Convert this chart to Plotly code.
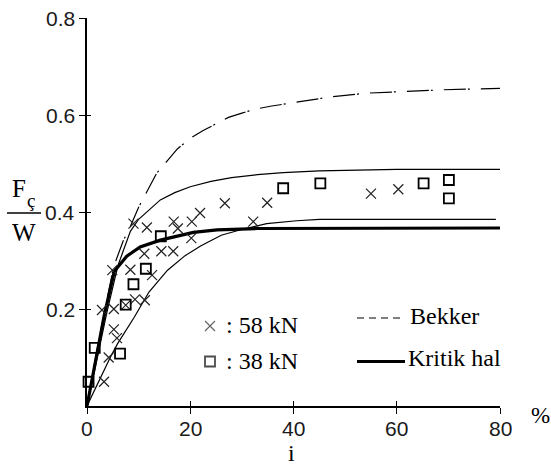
import plotly.graph_objects as go

# ---- measured series (slip i in %, traction ratio Fc/W) ----
x58 = [3.3, 4.2, 5.2, 5.8, 2.9, 5.2, 7.5, 9.3, 11.2, 12.6, 4.9, 8.4, 11.1, 14.4,
       16.7, 20.2, 9.0, 11.6, 16.8, 17.6, 20.3, 21.9, 26.7, 32.2, 34.9, 55.0, 60.3]
y58 = [0.050, 0.100, 0.158, 0.140, 0.198, 0.200, 0.208, 0.220, 0.218, 0.270, 0.280,
       0.281, 0.314, 0.319, 0.319, 0.346, 0.376, 0.368, 0.380, 0.366, 0.380, 0.398,
       0.418, 0.380, 0.419, 0.438, 0.447]

x38 = [0.3, 1.5, 6.4, 7.5, 9.0, 11.4, 14.3, 38.0, 45.2, 65.2, 70.1, 70.1]
y38 = [0.050, 0.120, 0.108, 0.209, 0.251, 0.283, 0.350, 0.449, 0.459, 0.459,
       0.466, 0.428]

# ---- model curves ----
bekker_x = [0, 2, 3.5, 5.15, 7, 8.4, 10, 12.25, 13.5, 15.5, 17.5, 20, 22.5, 25.2,
            27.4, 30, 32.6, 35.5, 40, 47, 54, 62, 69, 80]
bekker_y = [0, 0.12, 0.2, 0.287, 0.34, 0.37, 0.41, 0.456, 0.48, 0.505, 0.53, 0.552,
            0.568, 0.583, 0.595, 0.604, 0.612, 0.618, 0.626, 0.637, 0.645, 0.649,
            0.652, 0.655]

upper_x = [0, 2, 4, 6, 8.4, 10, 12, 14.2, 17, 20, 24, 28, 33, 38, 45, 52, 60, 80]
upper_y = [0, 0.1, 0.2, 0.29, 0.36, 0.385, 0.405, 0.425, 0.44, 0.452, 0.463, 0.471,
           0.477, 0.481, 0.485, 0.487, 0.488, 0.488]

lower_x = [0, 2, 4.5, 5.9, 9.15, 12, 15.6, 19, 22, 26, 30.3, 34.8, 40.6, 45, 52, 79.2]
lower_y = [0, 0.045, 0.1, 0.128, 0.183, 0.235, 0.28, 0.31, 0.33, 0.352, 0.365,
           0.376, 0.382, 0.385, 0.385, 0.385]

kritik_x = [0, 2, 3.4, 5.3, 7.7, 10.3, 14.2, 20.6, 25.2, 33, 80]
kritik_y = [0, 0.11, 0.19, 0.278, 0.309, 0.328, 0.342, 0.358, 0.363, 0.366, 0.367]

x_ticks = [0, 20, 40, 60, 80]
x_tick_text = ["0", "20", "40", "60", "80"]
y_ticks = [0.2, 0.4, 0.6, 0.8]
y_tick_text = ["0.2", "0.4", "0.6", "0.8"]

# ---- page geometry ----
W, H = 551, 469
L, R, T, B = 87, 51, 18, 63
PW, PH = W - L - R, H - T - B


def px(x):
    return (x - L) / PW


def py(y):
    return (H - B - y) / PH


SERIF = "Liberation Serif, Times New Roman, serif"
SANS = "Liberation Sans, Arial, sans-serif"
INK = "#1a1a1a"

fig = go.Figure()

fig.add_trace(go.Scatter(x=bekker_x, y=bekker_y, mode="lines",
                         line=dict(color="black", width=1.2, dash="22px,2px,2px,11px"),
                         hoverinfo="skip"))
fig.add_trace(go.Scatter(x=upper_x, y=upper_y, mode="lines",
                         line=dict(color="black", width=1.2), hoverinfo="skip"))
fig.add_trace(go.Scatter(x=lower_x, y=lower_y, mode="lines",
                         line=dict(color="black", width=1.2), hoverinfo="skip"))
fig.add_trace(go.Scatter(x=kritik_x, y=kritik_y, mode="lines",
                         line=dict(color="black", width=3.2), hoverinfo="skip"))
fig.add_trace(go.Scatter(x=x58, y=y58, mode="markers", cliponaxis=False,
                         marker=dict(symbol="x-thin-open", size=10, color="#222",
                                     line=dict(color="#222", width=1.2)),
                         hoverinfo="skip"))
fig.add_trace(go.Scatter(x=x38, y=y38, mode="markers", cliponaxis=False,
                         marker=dict(symbol="square-open", size=10, color="black",
                                     line=dict(color="black", width=1.8)),
                         hoverinfo="skip"))

# inner half of the crossing tick marks
fig.add_trace(go.Scatter(x=[None], y=[None], xaxis="x2", yaxis="y2",
                         showlegend=False, hoverinfo="skip"))

# legend keys for the two load series
fig.add_trace(go.Scatter(x=[px(210), px(210)], y=[py(326), py(361.5)],
                         xaxis="x3", yaxis="y3", mode="markers", cliponaxis=False,
                         marker=dict(symbol=["x-thin-open", "square-open"], size=[10, 10],
                                     color=["#222", "black"],
                                     line=dict(color=["#222", "black"], width=[1.2, 1.8])),
                         hoverinfo="skip"))

axis_common = dict(showgrid=False, zeroline=False, showline=True, linecolor="black",
                   linewidth=1.5, ticks="outside", ticklen=6, tickwidth=1.3,
                   tickcolor="black", showticklabels=False)

fig.update_layout(
    width=W, height=H,
    margin=dict(l=L, r=R, t=T, b=B),
    paper_bgcolor="white", plot_bgcolor="white",
    showlegend=False,
    xaxis=dict(range=[0, 80], tickvals=x_ticks, **axis_common),
    yaxis=dict(range=[0, 0.8], tickvals=y_ticks, **axis_common),
    xaxis2=dict(overlaying="x", anchor="y2", range=[0, 80], tickvals=x_ticks,
                ticks="inside", ticklen=5, tickwidth=1.3, tickcolor="black",
                showticklabels=False, showline=False, showgrid=False, zeroline=False),
    yaxis2=dict(overlaying="y", anchor="x2", range=[0, 0.8], tickvals=y_ticks,
                ticks="inside", ticklen=4, tickwidth=1.3, tickcolor="black",
                showticklabels=False, showline=False, showgrid=False, zeroline=False),
    xaxis3=dict(overlaying="x", anchor="y3", range=[0, 1], visible=False),
    yaxis3=dict(overlaying="y", anchor="x3", range=[0, 1], visible=False),
)

ann = []

# tick labels, set just off the axis lines
for v, s in zip(x_ticks, x_tick_text):
    ann.append(dict(text=s, x=v, xref="x", y=py(428), yref="paper",
                    xanchor="center", yanchor="middle", showarrow=False, height=20,
                    font=dict(family=SANS, size=21, color=INK)))
for v, s in zip(y_ticks, y_tick_text):
    ann.append(dict(text=s, x=px(77), xref="paper", y=v, yref="y",
                    xanchor="right", yanchor="middle", showarrow=False, height=20,
                    font=dict(family=SANS, size=21, color=INK)))


def text(s, x, y, size, xanchor="center", family=SERIF, height=None):
    a = dict(text=s, x=px(x), y=py(y), xref="paper", yref="paper",
             xanchor=xanchor, yanchor="middle", showarrow=False,
             font=dict(family=family, size=size, color="black"))
    if height:
        a["height"] = height
    ann.append(a)


# y-axis title as a fraction Fç / W
text("F", 19, 188.5, 25)
text("ç", 31, 200, 19)
text("W", 23.5, 232, 25)
# x-axis title and unit
text("i", 291.5, 453, 24, height=20)
text("%", 540, 416, 23)
# legend text
text(": 58 kN", 224, 325, 24, xanchor="left")
text(": 38 kN", 224, 360.5, 24, xanchor="left")
text("Bekker", 408, 315.5, 24, xanchor="left")
text("Kritik hal", 406, 357.5, 24, xanchor="left")
fig.update_layout(annotations=ann)

fig.update_layout(shapes=[
    dict(type="line", xref="paper", yref="paper", x0=px(7), x1=px(41),
         y0=py(213), y1=py(213), line=dict(color="black", width=1.3)),
    dict(type="line", xref="paper", yref="paper", x0=px(357), x1=px(403),
         y0=py(318), y1=py(318), line=dict(color="black", width=1.1, dash="7px,5px")),
    dict(type="line", xref="paper", yref="paper", x0=px(357), x1=px(405),
         y0=py(361.5), y1=py(361.5), line=dict(color="black", width=3.2)),
])

fig.write_html("out.html")
